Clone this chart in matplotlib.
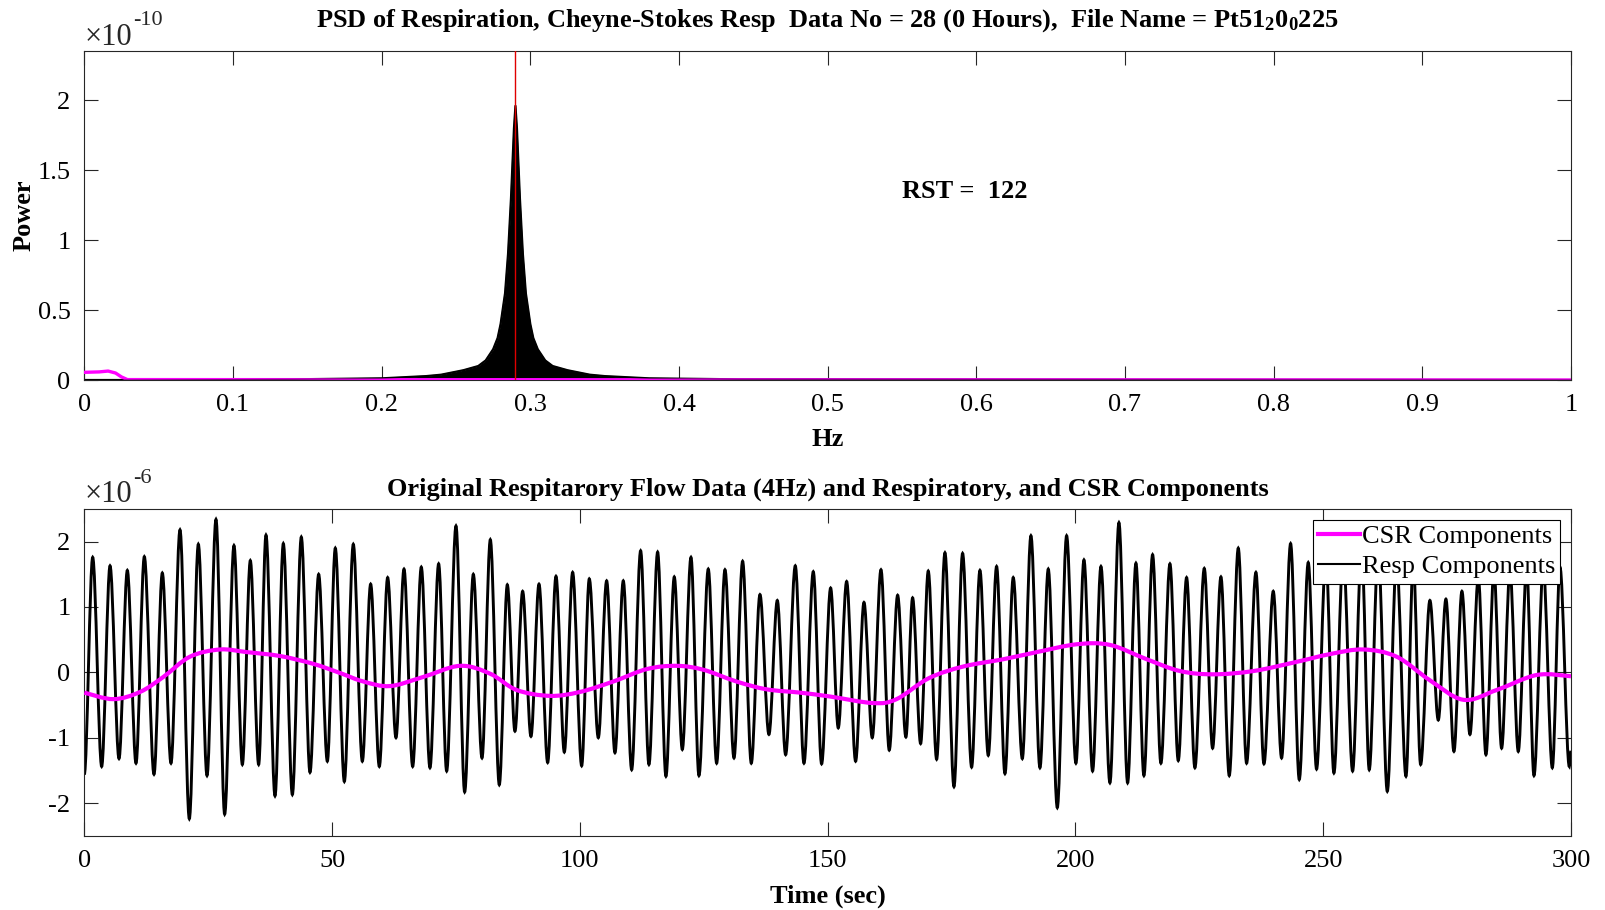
import matplotlib
matplotlib.use("Agg")
import matplotlib.pyplot as plt
from matplotlib.path import Path
from matplotlib.patches import PathPatch
from matplotlib.lines import Line2D

plt.rcParams['font.family'] = ['Liberation Serif', 'DejaVu Serif']
plt.rcParams['mathtext.fontset'] = 'custom'
plt.rcParams['mathtext.rm'] = 'Liberation Serif'
plt.rcParams['mathtext.bf'] = 'Liberation Serif:bold'
plt.rcParams['mathtext.it'] = 'Liberation Serif:italic'

# ---------------- data ----------------
# PSD of respiration (power in units of 1e-10)
psd_freq = [0.0, 0.03, 0.14, 0.20, 0.23, 0.24, 0.255, 0.265, 0.27, 0.275, 0.278,
            0.28, 0.283, 0.285, 0.287, 0.289, 0.29, 0.291, 0.293, 0.295, 0.297,
            0.30, 0.302, 0.305, 0.31, 0.315, 0.325, 0.34, 0.35, 0.38, 0.44, 1.0]
psd_power = [0.0, 0.0, 0.005, 0.012, 0.028, 0.038, 0.07, 0.10, 0.14, 0.22, 0.30,
             0.40, 0.62, 0.90, 1.30, 1.80, 1.96, 1.80, 1.30, 0.90, 0.62,
             0.40, 0.30, 0.22, 0.14, 0.10, 0.07, 0.038, 0.028, 0.012, 0.005, 0.0]
# PSD of CSR component (units of 1e-10)
csr_psd_freq = [0.0, 0.010, 0.016, 0.021, 0.025, 0.029, 1.0]
csr_psd_power = [0.055, 0.058, 0.064, 0.050, 0.022, 0.003, 0.0]
peak_freq = 0.29
rst_value = 122

# Respiratory component: successive extrema (time s, flow in units of 1e-6)
resp_time = [0.0, 1.69, 3.5, 5.19, 7.0, 8.68, 10.43, 12.11, 14.06, 15.74, 17.49,
             19.31, 21.19, 23.01, 24.76, 26.57, 28.32, 30.2, 31.89, 33.5, 35.18,
             36.66, 38.48, 40.16, 41.98, 43.79, 45.54, 47.29, 49.04, 50.65, 52.47,
             54.28, 56.1, 57.78, 59.53, 61.21, 62.89, 64.51, 66.26, 68.0, 69.75,
             71.5, 73.12, 75.0, 76.75, 78.5, 80.25, 81.93, 83.74, 85.36, 86.9,
             88.45, 90.13, 91.75, 93.5, 95.18, 96.86, 98.54, 100.36, 101.9, 103.72,
             105.4, 107.08, 108.76, 110.45, 112.26, 113.94, 115.69, 117.37, 119.05, 120.67,
             122.42, 124.03, 125.91, 127.6, 129.28, 131.1, 132.84, 134.59, 136.34, 138.15,
             139.84, 141.52, 143.47, 145.22, 147.1, 148.78, 150.6, 152.14, 153.83, 155.64,
             157.33, 159.0, 160.76, 162.43, 164.12, 165.79, 167.14, 168.76, 170.3, 171.99,
             173.67, 175.49, 177.23, 179.05, 180.73, 182.41, 184.09, 185.78, 187.45, 189.28,
             191.02, 192.84, 194.52, 196.34, 198.22, 200.1, 201.72, 203.46, 205.15, 206.96,
             208.78, 210.53, 212.21, 213.82, 215.57, 217.25, 219.07, 220.75, 222.43, 224.11,
             226.0, 227.68, 229.36, 231.04, 232.86, 234.54, 236.42, 238.04, 239.92, 241.6,
             243.42, 245.17, 246.98, 248.66, 250.54, 252.16, 254.04, 255.93, 257.74, 259.29,
             261.1, 262.93, 264.8, 266.7, 268.17, 269.66, 271.53, 273.22, 274.76, 276.38,
             277.99, 279.61, 281.3, 282.84, 284.46, 286.0, 287.69, 289.36, 291.05, 292.53,
             294.41, 296.23, 297.78, 299.66, 300.0]
resp_flow = [-1.56, 1.76, -1.44, 1.63, -1.32, 1.56, -1.39, 1.77, -1.56, 1.52, -1.39,
             2.18, -2.24, 1.96, -1.58, 2.34, -2.17, 1.94, -1.41, 1.71, -1.41,
             2.10, -1.89, 1.97, -1.87, 2.07, -1.53, 1.50, -1.36, 1.90, -1.67,
             1.96, -1.36, 1.35, -1.44, 1.45, -1.00, 1.58, -1.44, 1.61, -1.46,
             1.66, -1.51, 2.24, -1.83, 1.50, -1.31, 2.03, -1.72, 1.34, -0.90,
             1.24, -0.98, 1.35, -1.38, 1.47, -1.22, 1.53, -1.43, 1.43, -1.00,
             1.40, -1.23, 1.40, -1.49, 1.86, -1.41, 1.84, -1.59, 1.46, -1.18,
             1.76, -1.58, 1.58, -1.39, 1.57, -1.31, 1.70, -1.39, 1.19, -0.95,
             1.10, -1.26, 1.63, -1.39, 1.54, -1.40, 1.29, -0.85, 1.39, -1.36,
             1.07, -1.00, 1.57, -1.19, 1.18, -0.99, 1.14, -1.09, 1.55, -1.33,
             1.83, -1.75, 1.82, -1.45, 1.56, -1.27, 1.62, -1.55, 1.45, -1.32,
             2.09, -1.46, 1.58, -2.07, 2.09, -1.39, 1.72, -1.51, 1.62, -1.69,
             2.29, -1.69, 1.67, -1.58, 1.80, -1.39, 1.66, -1.35, 1.45, -1.46,
             1.59, -1.16, 1.46, -1.58, 1.90, -1.39, 1.53, -1.40, 1.24, -1.31,
             1.97, -1.64, 1.68, -1.48, 1.80, -1.54, 1.85, -1.51, 1.95, -1.49,
             1.90, -1.82, 1.75, -1.59, 1.70, -1.41, 1.10, -0.73, 1.12, -1.21,
             1.24, -0.95, 1.45, -1.26, 1.55, -1.16, 1.55, -1.21, 1.60, -1.58,
             1.60, -1.46, 1.61, -1.44, -1.20]

# CSR component (time s, flow in units of 1e-6)
csr_time = [0.0, 5.85, 11.24, 15.95, 21.33, 27.38, 32.76, 39.49, 46.22, 51.6,
            56.3, 61.68, 68.41, 75.81, 81.87, 87.24, 93.97, 100.0, 106.75, 113.5,
            119.5, 124.9, 131.6, 137.7, 144.4, 150.5, 159.2, 163.9, 170.4, 177.4,
            185.4, 192.2, 200.3, 206.96, 214.4, 221.1, 227.8, 235.9, 244.6, 251.4,
            258.1, 264.8, 271.5, 278.3, 285.0, 293.1, 300.0]
csr_flow = [-0.31, -0.41, -0.30, -0.07, 0.24, 0.35, 0.31, 0.25, 0.13, -0.01,
            -0.14, -0.21, -0.07, 0.10, -0.02, -0.27, -0.36, -0.30, -0.14, 0.05,
            0.10, 0.04, -0.14, -0.26, -0.31, -0.37, -0.47, -0.41, -0.09, 0.09,
            0.20, 0.31, 0.43, 0.42, 0.20, 0.02, -0.03, 0.02, 0.16, 0.28,
            0.35, 0.24, -0.12, -0.42, -0.27, -0.04, -0.06]

psd_xticks = [0, 0.1, 0.2, 0.3, 0.4, 0.5, 0.6, 0.7, 0.8, 0.9, 1]
psd_xticklabels = ['0', '0.1', '0.2', '0.3', '0.4', '0.5', '0.6', '0.7', '0.8', '0.9', '1']
psd_yticks = [0, 0.5, 1, 1.5, 2]
psd_yticklabels = ['0', '0.5', '1', '1.5', '2']
time_xticks = [0, 50, 100, 150, 200, 250, 300]
flow_yticks = [-2, -1, 0, 1, 2]
flow_yticklabels = ['-2', '-1', '0', '1', '2']

title_top = (r"PSD of Respiration, Cheyne-Stokes Resp  Data No = 28 (0 Hours),  "
             r"File Name = Pt51$_\mathbf{2}$0$_\mathbf{0}$225")
title_bottom = "Original Respitarory Flow Data (4Hz) and Respiratory, and CSR Components"


def extrema_path(ts, vs, k=1.0 / 3.0):
    """Smooth drawing between successive extrema (horizontal tangents)."""
    verts = [(ts[0], vs[0])]
    codes = [Path.MOVETO]
    for i in range(1, len(ts)):
        dt = ts[i] - ts[i - 1]
        verts += [(ts[i - 1] + k * dt, vs[i - 1]), (ts[i] - k * dt, vs[i]), (ts[i], vs[i])]
        codes += [Path.CURVE4] * 3
    return Path(verts, codes)


def smooth_path(ts, vs):
    """Catmull-Rom style smooth drawing through the given points."""
    n = len(ts)
    verts = [(ts[0], vs[0])]
    codes = [Path.MOVETO]
    for i in range(1, n):
        i0 = max(i - 2, 0)
        i3 = min(i + 1, n - 1)
        p0 = (ts[i0], vs[i0]); p1 = (ts[i - 1], vs[i - 1])
        p2 = (ts[i], vs[i]); p3 = (ts[i3], vs[i3])
        c1 = (p1[0] + (p2[0] - p0[0]) / 6.0, p1[1] + (p2[1] - p0[1]) / 6.0)
        c2 = (p2[0] - (p3[0] - p1[0]) / 6.0, p2[1] - (p3[1] - p1[1]) / 6.0)
        verts += [c1, c2, p2]
        codes += [Path.CURVE4] * 3
    return Path(verts, codes)


def offset_label(ax, y_frac, exponent):
    t1 = ax.text(0.0, y_frac, "\u00d710", transform=ax.transAxes, ha='left',
                 va='baseline', fontsize=22, color=AXC)
    ax.annotate(exponent, xy=(1.0, 1.0), xycoords=t1, xytext=(0.5, 1.5),
                textcoords='offset points', ha='left', va='center',
                fontsize=16, color=AXC)


AXC = '#262626'
FS = 19

fig = plt.figure(figsize=(16.06, 9.10), dpi=100)
ax1 = fig.add_axes([0.0525, 0.5824, 0.9257, 0.3612])
ax2 = fig.add_axes([0.0525, 0.0816, 0.9257, 0.3591])

for ax in (ax1, ax2):
    ax.tick_params(direction='in', length=10, width=0.8, top=True, right=True,
                   labelsize=FS, colors=AXC, labelcolor='black', pad=10)
    for sp in ax.spines.values():
        sp.set_color(AXC)
        sp.set_linewidth(0.8)

# ---- top panel ----
ax1.fill_between(psd_freq, psd_power, 0, color='black', lw=0, zorder=2)
ax1.plot(psd_freq, psd_power, color='black', lw=1.6, zorder=2)
ax1.plot(csr_psd_freq, csr_psd_power, color='#ff00ff', lw=2.4, zorder=3)
ax1.plot(psd_freq, psd_power, color='black', lw=0.9, alpha=0.5, zorder=4)
ax1.axvline(peak_freq, color='#e00000', lw=1.0, zorder=5)
ax1.set_xlim(0, 1)
ax1.set_ylim(0, 2.35)
ax1.set_xticks(psd_xticks)
ax1.set_xticklabels(psd_xticklabels)
ax1.set_yticks(psd_yticks)
ax1.set_yticklabels(psd_yticklabels)
ax1.text(0.55, 1.35, f"RST =  {rst_value}", fontweight='bold', fontsize=FS,
         va='center', ha='left')
ax1.text(0.5, 1.0748, title_top, transform=ax1.transAxes, ha='center',
         va='baseline', fontweight='bold', fontsize=FS)
offset_label(ax1, 1.02, "-10")
ax1.set_xlabel('Hz', fontweight='bold', fontsize=FS, labelpad=9)
ax1.set_ylabel('Power', fontweight='bold', fontsize=FS)
ax1.yaxis.set_label_coords(-0.0325, 0.5)

# ---- bottom panel ----
ax2.add_patch(PathPatch(smooth_path(csr_time, csr_flow), facecolor='none',
                        edgecolor='#ff00ff', lw=3.0, zorder=3))
ax2.add_patch(PathPatch(extrema_path(resp_time, resp_flow), facecolor='none',
                        edgecolor='black', lw=2.1, zorder=2))
ax2.set_xlim(0, 300)
ax2.set_ylim(-2.5, 2.5)
ax2.set_xticks(time_xticks)
ax2.set_yticks(flow_yticks)
ax2.set_yticklabels(flow_yticklabels)
ax2.text(0.5, 1.041, title_bottom, transform=ax2.transAxes, ha='center',
         va='baseline', fontweight='bold', fontsize=FS)
offset_label(ax2, 1.02, "-6")
ax2.set_xlabel('Time (sec)', fontweight='bold', fontsize=FS, labelpad=9)

handles = [Line2D([], [], color='#ff00ff', lw=3.0),
           Line2D([], [], color='black', lw=1.5)]
leg = ax2.legend(handles, ['CSR Components', 'Resp Components'], loc='upper right',
                 fontsize=19, frameon=True, fancybox=False, edgecolor='black',
                 framealpha=1, borderpad=0.2, labelspacing=0.25, handlelength=1.6,
                 handletextpad=0.05, borderaxespad=0.4)
leg.get_frame().set_linewidth(0.8)
leg.set_zorder(10)

fig.savefig('out.png', dpi=100)
